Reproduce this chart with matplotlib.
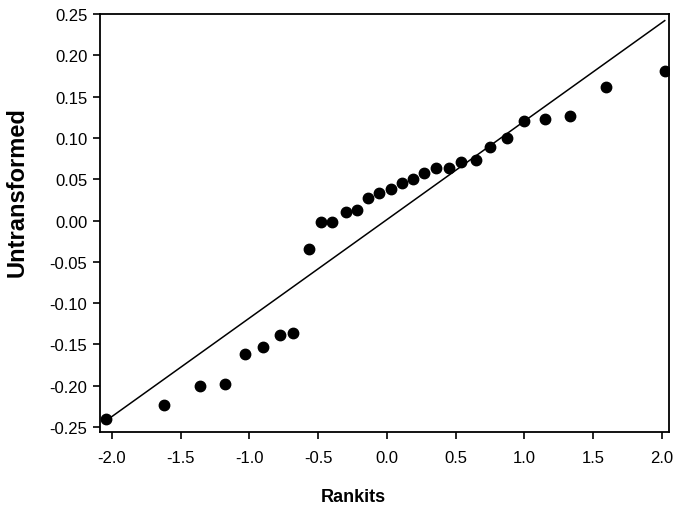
import matplotlib
matplotlib.use("Agg")
import matplotlib.pyplot as plt
import numpy as np

# rankits (expected normal scores) and untransformed values
rankits = [-2.04, -1.62, -1.36, -1.18, -1.03, -0.90, -0.78, -0.68, -0.57, -0.48,
           -0.40, -0.30, -0.22, -0.14, -0.06, 0.03, 0.11, 0.19, 0.27, 0.36,
           0.45, 0.54, 0.65, 0.75, 0.87, 1.00, 1.15, 1.33, 1.59, 2.02]
untransformed = [-0.240, -0.223, -0.200, -0.198, -0.161, -0.153, -0.139, -0.136, -0.035, -0.002,
                 -0.002, 0.010, 0.013, 0.027, 0.033, 0.038, 0.046, 0.050, 0.058, 0.063,
                 0.063, 0.071, 0.073, 0.089, 0.100, 0.120, 0.123, 0.126, 0.162, 0.181]

# reference line
linea_x = [-2.04, 2.02]
linea_y = [-0.242, 0.242]

xticks = [-2.0, -1.5, -1.0, -0.5, 0.0, 0.5, 1.0, 1.5, 2.0]
yticks = [0.25, 0.20, 0.15, 0.10, 0.05, 0.00, -0.05, -0.10, -0.15, -0.20, -0.25]

plt.rcParams["font.family"] = ["Liberation Sans", "DejaVu Sans"]

fig = plt.figure(figsize=(6.74, 5.10), dpi=100)
ax = fig.add_axes([100 / 674, 1 - 433 / 510, 569 / 674, 418 / 510])

ax.plot(linea_x, linea_y, color="black", linewidth=1.1)
ax.plot(rankits, untransformed, "o", color="black", markersize=7.5)

ax.set_xlim(-2.087, 2.051)
ax.set_ylim(-0.256, 0.25)
ax.set_xticks(xticks)
ax.set_xticklabels([f"{t:.1f}" for t in xticks])
ax.set_yticks(yticks)
ax.set_yticklabels([f"{t:.2f}" for t in yticks])

ax.tick_params(direction="out", length=5, width=1.2, labelsize=12, pad=4)
ax.tick_params(axis="x", pad=8)
for s in ax.spines.values():
    s.set_linewidth(1.3)

ax.set_xlabel("Rankits", fontsize=13, fontweight="bold")
ax.set_ylabel("Untransformed", fontsize=17, fontweight="bold")
# label positions are offset from the axes centre in the original
ax.xaxis.set_label_coords(0.445, -0.133)
ax.yaxis.set_label_coords(-0.125, 0.577)

fig.savefig("out.png", dpi=100)
